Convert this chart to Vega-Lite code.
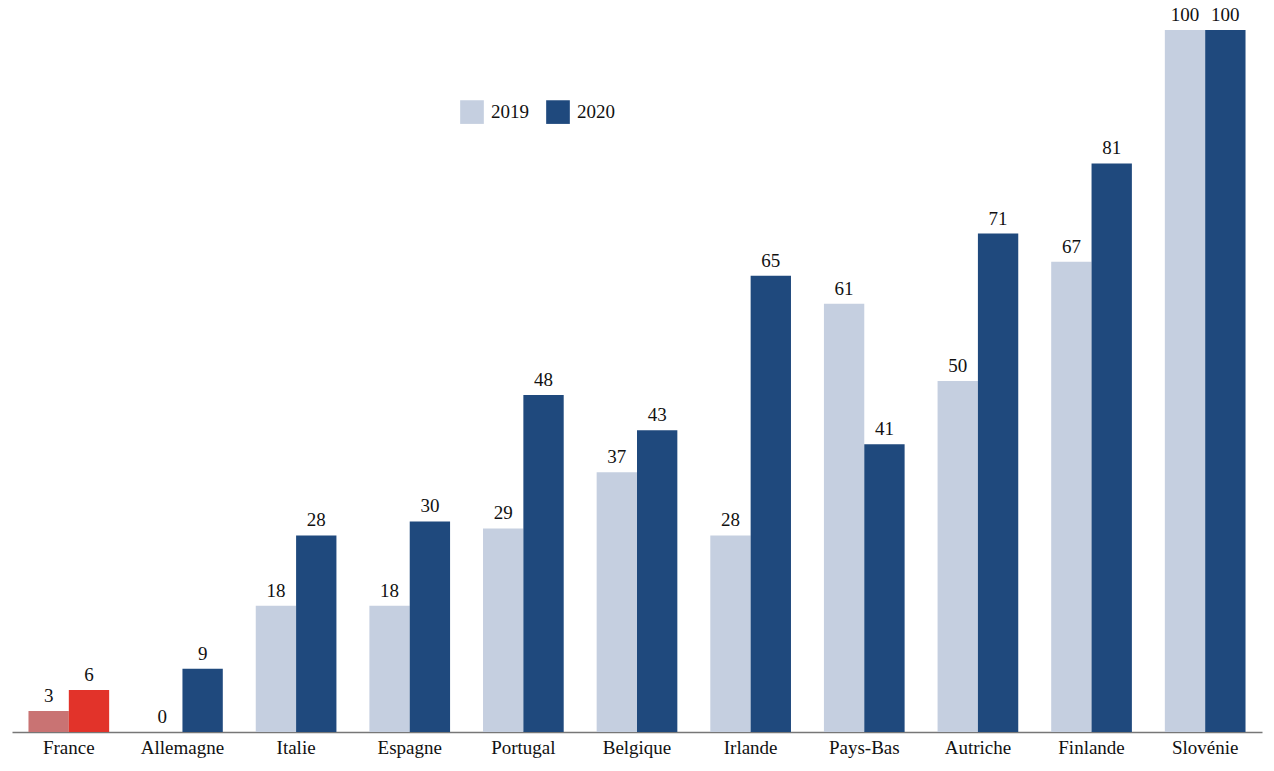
{
  "$schema": "https://vega.github.io/schema/vega-lite/v6.json",
  "width": 1250,
  "height": 702,
  "autosize": {"type": "none"},
  "padding": {"left": 12, "right": 12, "top": 30, "bottom": 39},
  "background": "white",
  "config": {"view": {"stroke": null}, "font": "Liberation Serif"},
  "data": {"values": [
    {"pays": "France", "annee": "2019", "serie": "France 2019", "valeur": 3},
    {"pays": "France", "annee": "2020", "serie": "France 2020", "valeur": 6},
    {"pays": "Allemagne", "annee": "2019", "serie": "2019", "valeur": 0},
    {"pays": "Allemagne", "annee": "2020", "serie": "2020", "valeur": 9},
    {"pays": "Italie", "annee": "2019", "serie": "2019", "valeur": 18},
    {"pays": "Italie", "annee": "2020", "serie": "2020", "valeur": 28},
    {"pays": "Espagne", "annee": "2019", "serie": "2019", "valeur": 18},
    {"pays": "Espagne", "annee": "2020", "serie": "2020", "valeur": 30},
    {"pays": "Portugal", "annee": "2019", "serie": "2019", "valeur": 29},
    {"pays": "Portugal", "annee": "2020", "serie": "2020", "valeur": 48},
    {"pays": "Belgique", "annee": "2019", "serie": "2019", "valeur": 37},
    {"pays": "Belgique", "annee": "2020", "serie": "2020", "valeur": 43},
    {"pays": "Irlande", "annee": "2019", "serie": "2019", "valeur": 28},
    {"pays": "Irlande", "annee": "2020", "serie": "2020", "valeur": 65},
    {"pays": "Pays-Bas", "annee": "2019", "serie": "2019", "valeur": 61},
    {"pays": "Pays-Bas", "annee": "2020", "serie": "2020", "valeur": 41},
    {"pays": "Autriche", "annee": "2019", "serie": "2019", "valeur": 50},
    {"pays": "Autriche", "annee": "2020", "serie": "2020", "valeur": 71},
    {"pays": "Finlande", "annee": "2019", "serie": "2019", "valeur": 67},
    {"pays": "Finlande", "annee": "2020", "serie": "2020", "valeur": 81},
    {"pays": "Slovénie", "annee": "2019", "serie": "2019", "valeur": 100},
    {"pays": "Slovénie", "annee": "2020", "serie": "2020", "valeur": 100}
  ]},
  "encoding": {
    "x": {
      "field": "pays", "type": "nominal", "sort": null,
      "scale": {"paddingInner": 0.29, "paddingOuter": 0.145},
      "axis": {"title": null, "labelAngle": 0, "ticks": false, "labelFontSize": 19, "labelColor": "#111", "labelPadding": 6, "domainColor": "#777", "domainWidth": 1.5, "labelFont": "Liberation Serif"}
    },
    "xOffset": {"field": "annee", "type": "nominal", "scale": {"paddingInner": 0, "paddingOuter": 0}},
    "y": {"field": "valeur", "type": "quantitative", "scale": {"domain": [0, 100], "nice": false}, "axis": null}
  },
  "layer": [
    {
      "mark": {"type": "bar"},
      "encoding": {
        "color": {
          "field": "serie", "type": "nominal",
          "scale": {"domain": ["2019", "2020", "France 2019", "France 2020"], "range": ["#c5cfe0", "#1f497d", "#c97373", "#e2332a"]},
          "legend": {"values": ["2019", "2020"], "title": null, "orient": "none", "legendX": 448, "legendY": 70, "direction": "horizontal", "symbolType": "square", "symbolSize": 560, "symbolStrokeWidth": 0, "symbolOpacity": 1, "labelFontSize": 19, "labelFont": "Liberation Serif", "labelColor": "#111", "columnPadding": 17, "labelOffset": 7}
        }
      }
    },
    {
      "mark": {"type": "text", "baseline": "bottom", "dy": -5, "fontSize": 19, "color": "#111", "font": "Liberation Serif"},
      "encoding": {"text": {"field": "valeur", "type": "quantitative"}}
    }
  ]
}
